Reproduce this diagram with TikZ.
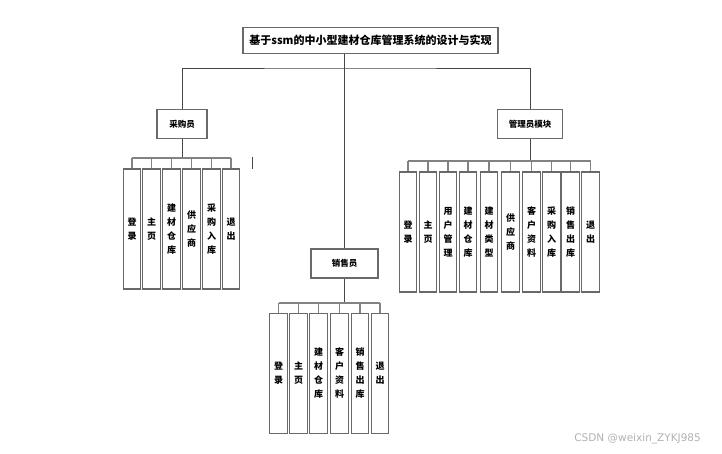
\documentclass[tikz,border=0pt]{standalone}
\usepackage{fontspec}
\newfontfamily\cjk{Noto Sans CJK SC}
\newfontfamily\wmfont{DejaVu Sans}
\definecolor{boxline}{RGB}{105,105,105}
\definecolor{conline}{RGB}{70,70,70}
\definecolor{busline}{RGB}{130,130,130}
\tikzset{
  box/.style={draw=boxline, line width=1.2pt, fill=white, inner sep=0pt, align=center},
  titlebox/.style={box, minimum width=255pt, minimum height=26pt, font=\cjk\bfseries\fontsize{11}{13}\selectfont},
  rolebox/.style={box, minimum height=29pt, font=\cjk\bfseries\fontsize{8.5}{10}\selectfont},
  leafbox/.style={box, minimum width=17.5pt, minimum height=120pt, font=\cjk\bfseries\fontsize{9}{14}\selectfont},
  con/.style={draw=conline, line width=0.9pt},
  bus/.style={draw=busline, line width=1.3pt},
}
\begin{document}
\begin{tikzpicture}[x=1pt,y=-1pt]
\fill[white] (0,0) rectangle (722,453);
\useasboundingbox (0,0) rectangle (722,453);

% title and roles
\node[titlebox] (T) at (370.5,40.5) {基于ssm的中小型建材仓库管理系统的设计与实现};
\node[rolebox, minimum width=50pt] (P1) at (182,124) {采购员};
\node[rolebox, minimum width=65pt] (P2) at (530,124) {管理员模块};
\node[rolebox, minimum width=67pt] (P3) at (344.5,263.5) {销售员};

\coordinate (J) at (344.5,68);
\draw[con] (T.south -| P3.north) -- (P3.north);
\draw[con] (P1.north) |- (J) -| (P2.north);

% purchaser children
\foreach \i/\x/\t in {1/132/登\\录, 2/151.5/主\\页, 3/171.5/建\\材\\仓\\库, 4/191.5/供\\应\\商, 5/211.5/采\\购\\入\\库, 6/231/退\\出}{
  \node[leafbox] (a\i) at (\x,229) {\t};
}
\coordinate (B1) at (182,158);
\draw[con] (P1.south) -- (B1);
\draw[bus] (a1.north |- B1) -- (a6.north |- B1);
\foreach \i in {1,...,6}{ \draw[bus] (a\i.north |- B1) -- (a\i.north); }

% admin children
\foreach \i/\x/\t in {1/408/登\\录, 2/428/主\\页, 3/448/用\\户\\管\\理, 4/468/建\\材\\仓\\库, 5/489/建\\材\\类\\型, 6/510.5/供\\应\\商, 7/531.5/客\\户\\资\\料, 8/551.5/采\\购\\入\\库, 9/570.5/销\\售\\出\\库, 10/590.5/退\\出}{
  \node[leafbox] (b\i) at (\x,232) {\t};
}
\coordinate (B2) at (530,161);
\draw[con] (P2.south) -- (B2);
\draw[bus] (b1.north |- B2) -- (b10.north |- B2);
\foreach \i in {1,...,10}{ \draw[bus] (b\i.north |- B2) -- (b\i.north); }

% seller children
\foreach \i/\x/\t in {1/278.5/登\\录, 2/298.5/主\\页, 3/318.5/建\\材\\仓\\库, 4/339.5/客\\户\\资\\料, 5/360/销\\售\\出\\库, 6/380/退\\出}{
  \node[leafbox] (c\i) at (\x,373.5) {\t};
}
\coordinate (B3) at (344.5,303);
\draw[con] (P3.south) -- (B3);
\draw[bus] (c1.north |- B3) -- (c6.north |- B3);
\foreach \i in {1,...,6}{ \draw[bus] (c\i.north |- B3) -- (c\i.north); }

% stray mark
\draw[draw=conline, line width=1pt] (252,157) -- (252,169);

% watermark
\node[anchor=east, text=black!30, font=\wmfont\fontsize{10.5}{12}\selectfont, inner sep=0pt] (wm) at (701,438.5) {CSDN @weixin\_ZYKJ985};
\end{tikzpicture}
\end{document}
